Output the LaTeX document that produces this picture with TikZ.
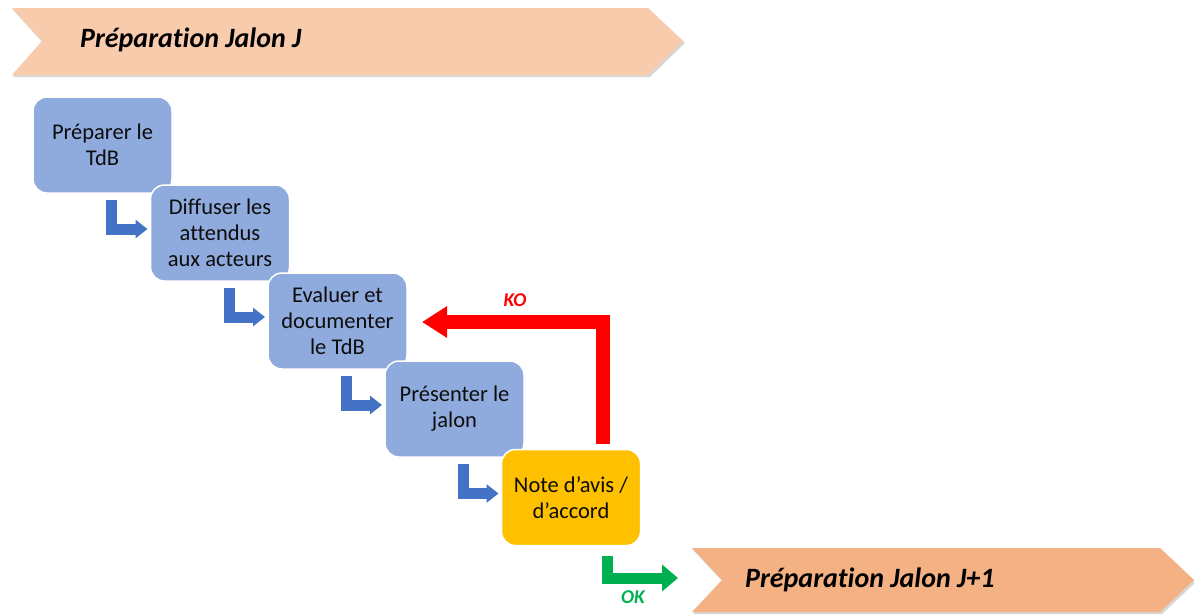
\documentclass[tikz,border=0pt]{standalone}
\usepackage{fontspec}
\setmainfont{Carlito}[Ligatures=NoCommon]
\usetikzlibrary{arrows.meta}
\definecolor{stepblue}{HTML}{8FAADC}
\definecolor{arrowblue}{HTML}{4472C4}
\definecolor{noteyellow}{HTML}{FFC000}
\definecolor{peachlight}{HTML}{F8CBAD}
\definecolor{peachdark}{HTML}{F4B183}
\definecolor{okgreen}{HTML}{00B050}
\definecolor{kored}{HTML}{FF0000}
\tikzset{
  stepbox/.style={draw=white, line width=1.5pt, rounded corners=14pt,
    minimum width=139pt, minimum height=96pt, outer sep=0pt,
    align=center, text=black!95,
    font=\fontsize{22.5}{26}\selectfont},
  bluebox/.style={stepbox, fill=stepblue},
  notebox/.style={stepbox, fill=noteyellow},
  elbow/.style={draw=arrowblue, line width=11pt, line cap=butt, line join=miter,
    -{Triangle[length=12pt,width=18pt]}},
  koarrow/.style={draw=kored, line width=14pt, line cap=butt, line join=miter,
    -{Triangle[length=25pt,width=30pt]}},
  okarrow/.style={draw=okgreen, line width=11pt, line cap=butt, line join=miter,
    -{Triangle[length=16pt,width=26pt]}},
  chevshadow/.style={fill=black!35, opacity=0.45},
  phasetext/.style={font=\fontsize{28}{32}\selectfont\bfseries\itshape, anchor=west, inner sep=0pt},
  flaglabel/.style={font=\fontsize{19.5}{22}\selectfont\bfseries\itshape, inner sep=0pt},
}
\begin{document}
\begin{tikzpicture}[x=1pt, y=-1pt]
\useasboundingbox (0,0) rectangle (1194,614);

% phase banners
\fill[chevshadow] (13,10) -- (650,10) -- (685,43) -- (650,77) -- (13,77) -- (43,43) -- cycle;
\fill[peachlight] (12,8) -- (648,8) -- (683,41) -- (648,75) -- (12,75) -- (42,41) -- cycle;
\node[phasetext] (phaseJ) at (80,40) {Préparation Jalon J};

\fill[chevshadow] (693,550) -- (1162,550) -- (1196,582) -- (1162,614) -- (693,614) -- (723,582) -- cycle;
\fill[peachdark] (692,548) -- (1160,548) -- (1194,580) -- (1160,612) -- (692,612) -- (722,580) -- cycle;
\node[phasetext] (phaseJ1) at (745,580) {Préparation Jalon J+1};

% steps
\node[bluebox] (b1) at (102.5,145) {Préparer le\\TdB};
\node[bluebox] (b2) at (220,233) {Diffuser les\\attendus\\aux acteurs};
\node[bluebox] (b3) at (337.5,321) {Evaluer et\\documenter\\le TdB};
\node[bluebox] (b4) at (454.5,409) {Présenter le\\jalon};
\node[notebox] (b5) at (571,497.5) {Note d’avis /\\d’accord};

% step-to-step elbows
\draw[elbow] ([xshift=9pt,yshift=-7pt]b1.south) |- ([xshift=-3pt,yshift=4pt]b2.west);
\draw[elbow] ([xshift=9pt,yshift=-7pt]b2.south) |- ([xshift=-3pt,yshift=4pt]b3.west);
\draw[elbow] ([xshift=9pt,yshift=-7pt]b3.south) |- ([xshift=-3pt,yshift=4pt]b4.west);
\draw[elbow] ([xshift=9pt,yshift=-7pt]b4.south) |- ([xshift=-3pt,yshift=4pt]b5.west);

% decision outcomes
\draw[koarrow] ([xshift=32pt,yshift=6pt]b5.north) |- ([xshift=15pt,yshift=-1pt]b3.east);
\node[flaglabel, text=kored] (ko) at (515,300) {KO};

\coordinate (okend) at (678,578);
\draw[okarrow] ([xshift=36.5pt,yshift=-10pt]b5.south) |- (okend);
\node[flaglabel, text=okgreen] (ok) at (633,597) {OK};
\end{tikzpicture}
\end{document}
